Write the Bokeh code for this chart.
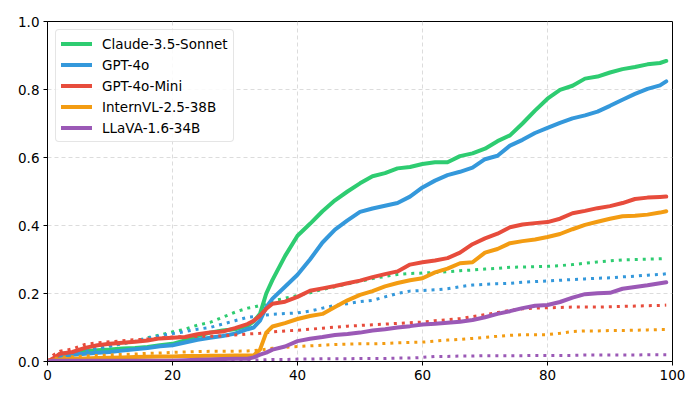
from bokeh.plotting import figure
from bokeh.models import Range1d, Legend, LegendItem, PrintfTickFormatter, FixedTicker
from bokeh.embed import file_html
from bokeh.resources import INLINE

x = [0, 1, 2, 4, 6, 8, 10, 12, 14, 16, 18, 20, 22, 24, 26, 28, 30, 32, 33, 34, 35, 36, 38, 40,
     42, 44, 46, 48, 50, 52, 54, 56, 58, 60, 62, 64, 66, 68, 70, 72, 74, 76, 78, 80, 82, 84, 86,
     88, 90, 92, 94, 96, 98, 99]

models = ["Claude-3.5-Sonnet", "GPT-4o", "GPT-4o-Mini", "InternVL-2.5-38B", "LLaVA-1.6-34B"]
colors = ["#2ecc71", "#3498db", "#e74c3c", "#f39c12", "#9b59b6"]

claude = [0, 0.005, 0.022, 0.025, 0.03, 0.033, 0.035, 0.038, 0.04, 0.043, 0.048, 0.052, 0.062,
          0.075, 0.085, 0.091, 0.095, 0.105, 0.118, 0.14, 0.2, 0.24, 0.31, 0.37, 0.405, 0.442,
          0.474, 0.5, 0.524, 0.545, 0.554, 0.568, 0.572, 0.581, 0.586, 0.586, 0.604, 0.612,
          0.626, 0.648, 0.665, 0.7, 0.738, 0.773, 0.799, 0.811, 0.832, 0.838, 0.85, 0.86,
          0.866, 0.874, 0.878, 0.884]
gpt4o = [0, 0.004, 0.016, 0.02, 0.023, 0.026, 0.028, 0.032, 0.036, 0.04, 0.045, 0.048, 0.056,
         0.064, 0.07, 0.075, 0.082, 0.095, 0.1, 0.12, 0.16, 0.185, 0.22, 0.255, 0.3, 0.35,
         0.388, 0.415, 0.44, 0.45, 0.458, 0.466, 0.485, 0.512, 0.532, 0.548, 0.558, 0.57,
         0.595, 0.605, 0.635, 0.652, 0.672, 0.687, 0.702, 0.715, 0.724, 0.735, 0.752, 0.77,
         0.787, 0.802, 0.812, 0.824]
mini = [0, 0.01, 0.023, 0.028, 0.04, 0.048, 0.052, 0.055, 0.058, 0.062, 0.068, 0.07, 0.072,
        0.08, 0.085, 0.088, 0.098, 0.11, 0.12, 0.135, 0.155, 0.17, 0.176, 0.19, 0.208, 0.215,
        0.222, 0.23, 0.238, 0.248, 0.257, 0.265, 0.285, 0.292, 0.297, 0.304, 0.32, 0.345,
        0.362, 0.376, 0.395, 0.403, 0.407, 0.41, 0.42, 0.436, 0.443, 0.451, 0.457, 0.466,
        0.478, 0.482, 0.484, 0.485]
internvl = [0, 0.003, 0.006, 0.008, 0.009, 0.01, 0.011, 0.012, 0.013, 0.014, 0.015, 0.015,
            0.016, 0.016, 0.017, 0.017, 0.018, 0.018, 0.018, 0.035, 0.085, 0.103, 0.113, 0.125,
            0.134, 0.14, 0.16, 0.18, 0.196, 0.207, 0.221, 0.231, 0.239, 0.245, 0.262, 0.273,
            0.289, 0.292, 0.32, 0.331, 0.348, 0.354, 0.359, 0.366, 0.375, 0.389, 0.402, 0.411,
            0.42, 0.427, 0.429, 0.432, 0.438, 0.442]
llava = [0, 0.002, 0.002, 0.002, 0.002, 0.002, 0.002, 0.002, 0.002, 0.002, 0.002, 0.002, 0.004,
         0.005, 0.006, 0.007, 0.008, 0.008, 0.012, 0.02, 0.026, 0.035, 0.044, 0.06, 0.067,
         0.072, 0.078, 0.081, 0.085, 0.091, 0.095, 0.1, 0.104, 0.109, 0.111, 0.114, 0.117,
         0.122, 0.13, 0.14, 0.148, 0.157, 0.164, 0.166, 0.175, 0.188, 0.198, 0.201, 0.202,
         0.214, 0.219, 0.224, 0.23, 0.233]

claude_base = [0, 0.01, 0.022, 0.026, 0.035, 0.04, 0.046, 0.052, 0.06, 0.07, 0.078, 0.087,
               0.095, 0.107, 0.115, 0.13, 0.145, 0.157, 0.16, 0.165, 0.17, 0.178, 0.186, 0.194,
               0.202, 0.212, 0.22, 0.228, 0.236, 0.244, 0.25, 0.256, 0.259, 0.26, 0.262, 0.264,
               0.267, 0.269, 0.272, 0.274, 0.277, 0.278, 0.279, 0.28, 0.282, 0.285, 0.289,
               0.293, 0.296, 0.299, 0.3, 0.301, 0.302, 0.303]
gpt4o_base = [0, 0.008, 0.018, 0.022, 0.03, 0.038, 0.045, 0.053, 0.06, 0.068, 0.076, 0.082,
              0.088, 0.095, 0.1, 0.11, 0.12, 0.13, 0.132, 0.135, 0.137, 0.139, 0.141, 0.143,
              0.148, 0.157, 0.165, 0.17, 0.176, 0.18, 0.19, 0.2, 0.207, 0.209, 0.211, 0.214,
              0.22, 0.225, 0.227, 0.229, 0.23, 0.233, 0.235, 0.237, 0.239, 0.241, 0.243, 0.245,
              0.246, 0.249, 0.251, 0.254, 0.256, 0.258]
mini_base = [0, 0.02, 0.03, 0.037, 0.05, 0.055, 0.058, 0.061, 0.064, 0.066, 0.069, 0.072, 0.073,
             0.074, 0.074, 0.075, 0.078, 0.081, 0.082, 0.083, 0.085, 0.087, 0.09, 0.092, 0.095,
             0.098, 0.101, 0.104, 0.106, 0.108, 0.11, 0.112, 0.114, 0.116, 0.12, 0.123, 0.126,
             0.132, 0.138, 0.144, 0.15, 0.155, 0.157, 0.158, 0.159, 0.16, 0.16, 0.16, 0.161,
             0.162, 0.163, 0.164, 0.165, 0.166]
internvl_base = [0, 0.008, 0.012, 0.014, 0.016, 0.018, 0.019, 0.021, 0.022, 0.024, 0.025,
                 0.027, 0.028, 0.029, 0.03, 0.03, 0.03, 0.031, 0.032, 0.034, 0.036, 0.039,
                 0.042, 0.044, 0.046, 0.048, 0.05, 0.051, 0.052, 0.052, 0.053, 0.055, 0.056,
                 0.057, 0.06, 0.063, 0.065, 0.068, 0.071, 0.074, 0.077, 0.079, 0.079, 0.079,
                 0.083, 0.088, 0.09, 0.09, 0.091, 0.091, 0.092, 0.093, 0.094, 0.094]
llava_base = [0, 0, 0, 0, 0, 0, 0, 0, 0, 0, 0, 0, 0, 0.002, 0.002, 0.003, 0.003, 0.003, 0.004,
              0.005, 0.005, 0.006, 0.006, 0.007, 0.007, 0.008, 0.008, 0.008, 0.009, 0.009,
              0.009, 0.01, 0.01, 0.012, 0.015, 0.015, 0.016, 0.016, 0.017, 0.017, 0.017, 0.017,
              0.018, 0.018, 0.018, 0.018, 0.019, 0.019, 0.019, 0.019, 0.019, 0.02, 0.02, 0.02]

x_ticks = [0, 20, 40, 60, 80, 100]
y_ticks = [0.0, 0.2, 0.4, 0.6, 0.8, 1.0]

solid = [claude, gpt4o, mini, internvl, llava]
dotted = [claude_base, gpt4o_base, mini_base, internvl_base, llava_base]

FONT = "DejaVu Sans"

p = figure(width=692, height=392, output_backend="svg", toolbar_location=None,
           x_range=Range1d(0, 100), y_range=Range1d(0, 1),
           min_border_left=47, min_border_right=20, min_border_top=21, min_border_bottom=31)

p.background_fill_color = "white"
p.border_fill_color = "white"
p.outline_line_color = "black"
p.outline_line_width = 1
p.outline_line_alpha = 1

for ax in (p.xaxis[0], p.yaxis[0]):
    ax.axis_line_color = "black"
    ax.major_tick_line_color = "black"
    ax.major_tick_out = 4
    ax.major_tick_in = 0
    ax.minor_tick_line_color = None
    ax.major_label_text_font = FONT
    ax.major_label_text_font_size = "13.5px"
    ax.major_label_text_color = "black"
    ax.major_label_standoff = 4

p.xaxis.ticker = FixedTicker(ticks=x_ticks)
p.yaxis.ticker = FixedTicker(ticks=y_ticks)
p.yaxis.formatter = PrintfTickFormatter(format="%.1f")

p.grid.grid_line_color = "#dcdcdc"
p.grid.grid_line_dash = "4 3"
p.grid.grid_line_width = 1

items = []
for name, col, s, d in zip(models, colors, solid, dotted):
    r = p.line(x, s, line_color=col, line_width=4, line_join="round", line_cap="round")
    p.line(x, d, line_color=col, line_width=3, line_dash="3 5", line_cap="butt")
    items.append(LegendItem(label=name, renderers=[r]))

legend = Legend(items=items, location="top_left")
legend.label_text_font = FONT
legend.label_text_font_size = "13.5px"
legend.label_text_color = "black"
legend.glyph_width = 31
legend.glyph_height = 17
legend.label_height = 17
legend.label_standoff = 10
legend.spacing = 4
legend.padding = 5
legend.margin = 8
legend.border_line_color = "#cccccc"
legend.border_line_width = 1
legend.border_radius = 4
legend.background_fill_alpha = 0.85
p.add_layout(legend)

open("out.html", "w").write(file_html(p, INLINE))
